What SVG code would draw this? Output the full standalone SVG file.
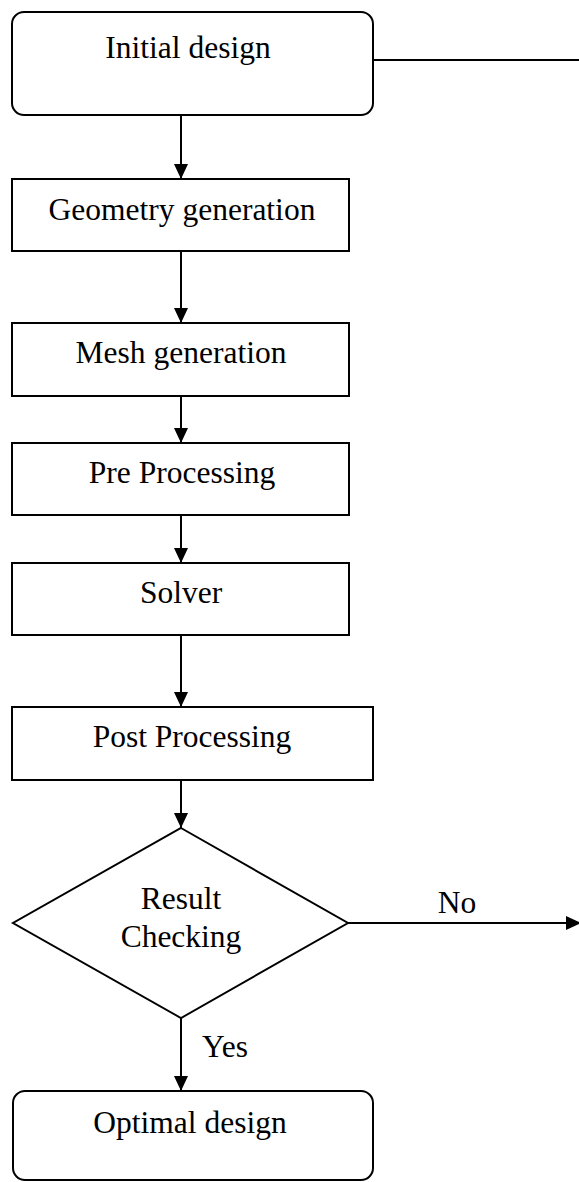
<svg xmlns="http://www.w3.org/2000/svg" width="579" height="1182" viewBox="0 0 579 1182">
<style>
.box{fill:#fff;stroke:#000;stroke-width:2}
.lbl{font-family:"Liberation Serif","Times New Roman",serif;font-size:31.5px;fill:#000;text-anchor:middle}
.edge{fill:none;stroke:#000;stroke-width:2}
</style>
<defs>
<marker id="ah" markerUnits="userSpaceOnUse" markerWidth="15" markerHeight="15" refX="15" refY="7.5" orient="auto">
<path d="M0,0.5 L15,7.5 L0,14.5 z" fill="#000"/>
</marker>
</defs>
<g id="connectors">
<line class="edge" x1="181" y1="115" x2="181" y2="179" marker-end="url(#ah)"/>
<line class="edge" x1="181" y1="251" x2="181" y2="323" marker-end="url(#ah)"/>
<line class="edge" x1="181" y1="396" x2="181" y2="443" marker-end="url(#ah)"/>
<line class="edge" x1="181" y1="515" x2="181" y2="563" marker-end="url(#ah)"/>
<line class="edge" x1="181" y1="635" x2="181" y2="707" marker-end="url(#ah)"/>
<line class="edge" x1="181" y1="780" x2="181" y2="828" marker-end="url(#ah)"/>
<line class="edge" x1="181" y1="1018" x2="181" y2="1091" marker-end="url(#ah)"/>
<line class="edge" x1="373" y1="60" x2="579" y2="60"/>
<line class="edge" x1="348" y1="923" x2="581" y2="923" marker-end="url(#ah)"/>
<text class="lbl" x="457" y="913">No</text>
<text class="lbl" x="225" y="1057">Yes</text>
</g>
<g id="initial">
<rect class="box" x="12" y="12" width="361" height="103" rx="12"/>
<text class="lbl" x="188" y="58">Initial design</text>
</g>
<g id="geometry">
<rect class="box" x="12" y="179" width="337" height="72"/>
<text class="lbl" x="182" y="220">Geometry generation</text>
</g>
<g id="mesh">
<rect class="box" x="12" y="323" width="337" height="73"/>
<text class="lbl" x="181" y="363">Mesh generation</text>
</g>
<g id="pre">
<rect class="box" x="12" y="443" width="337" height="72"/>
<text class="lbl" x="182" y="483">Pre Processing</text>
</g>
<g id="solver">
<rect class="box" x="12" y="563" width="337" height="72"/>
<text class="lbl" x="181" y="603">Solver</text>
</g>
<g id="post">
<rect class="box" x="12" y="707" width="361" height="73"/>
<text class="lbl" x="192" y="747">Post Processing</text>
</g>
<g id="check">
<polygon class="box" points="181,828 348,923 181,1018 13,923"/>
<text class="lbl" x="181" y="909">Result</text>
<text class="lbl" x="181" y="947">Checking</text>
</g>
<g id="optimal">
<rect class="box" x="13" y="1091" width="360" height="89" rx="12"/>
<text class="lbl" x="190" y="1133">Optimal design</text>
</g>
</svg>
